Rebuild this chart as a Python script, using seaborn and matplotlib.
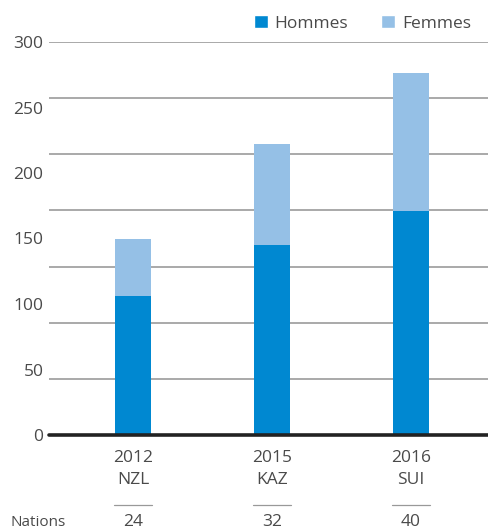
import numpy as np
import pandas as pd
import matplotlib
matplotlib.use("Agg")
import matplotlib.pyplot as plt
import matplotlib.transforms as mtransforms
from matplotlib.patches import Patch
import seaborn as sns

years = ["2012", "2015", "2016"]
hosts = ["NZL", "KAZ", "SUI"]
hommes = [106, 145, 171]
femmes = [44, 77, 105]
nations = [24, 32, 40]
y_ticks = [0, 50, 100, 150, 200, 250, 300]

color_h = "#0088D1"
color_f = "#95C0E6"
text_color = "#4a4a4a"

sns.set_theme(style="white")
plt.rcParams["font.family"] = ["Open Sans", "DejaVu Sans"]

df = pd.DataFrame({
    "edition": [f"{y}\n{h}" for y, h in zip(years, hosts)],
    "Hommes": hommes,
    "Femmes": femmes,
})
df["Total"] = df["Hommes"] + df["Femmes"]

fig = plt.figure(figsize=(4.88, 5.29), dpi=100)
ax = fig.add_axes([49 / 488, 94 / 529, 439 / 488, 393 / 529])

# stacked bars: total first (Femmes colour), Hommes on top of it
sns.barplot(data=df, x="edition", y="Total", color=color_f, width=0.26,
            saturation=1, linewidth=0, ax=ax, zorder=3)
sns.barplot(data=df, x="edition", y="Hommes", color=color_h, width=0.26,
            saturation=1, linewidth=0, ax=ax, zorder=4)

ax.set_ylim(0, 300)
ax.set_xlim(-0.604, 2.554)
ax.set_yticks(y_ticks)
ax.set_yticklabels([str(v) for v in y_ticks])

# decorative grid lines (not aligned with labels in the original)
ax.set_yticks(np.linspace(0, 300, 8), minor=True)
ax.yaxis.remove_overlapping_locs = False
ax.grid(False)
ax.grid(True, which="minor", axis="y", color="#a3a3a3", linewidth=1.3, zorder=0)
ax.axhline(0, color="#222222", linewidth=2.6, zorder=5, clip_on=False)

for s in ax.spines.values():
    s.set_visible(False)
ax.tick_params(axis="both", which="both", length=0)
ax.tick_params(axis="y", pad=4, labelsize=12.5, labelcolor=text_color)
ax.tick_params(axis="x", pad=11, labelsize=12.5, labelcolor=text_color)
for lbl in ax.get_xticklabels():
    lbl.set_linespacing(1.45)
ax.set_xlabel("")
ax.set_ylabel("")

# nations row below the axis
trans = mtransforms.blended_transform_factory(ax.transData, fig.transFigure)
for i, n in enumerate(nations):
    ax.plot([i - 0.135, i + 0.135], [24 / 529, 24 / 529], transform=trans,
            color="#999999", linewidth=0.9, clip_on=False)
    ax.text(i, 7 / 529, str(n), transform=trans, ha="center", va="center",
            fontsize=12.5, color=text_color)
fig.text(10 / 488, 7 / 529, "Nations", ha="left", va="center",
         fontsize=11, color=text_color)

handles = [Patch(facecolor=color_h, label="Hommes"),
           Patch(facecolor=color_f, label="Femmes")]
fig.legend(handles=handles, loc="upper right", bbox_to_anchor=(478 / 488, 1 - 8 / 529),
           ncol=2, frameon=False, fontsize=12.5, handlelength=0.8, handleheight=0.8,
           handletextpad=0.4, columnspacing=1.9, borderaxespad=0, labelcolor=text_color)

fig.savefig("out.png", dpi=100)
